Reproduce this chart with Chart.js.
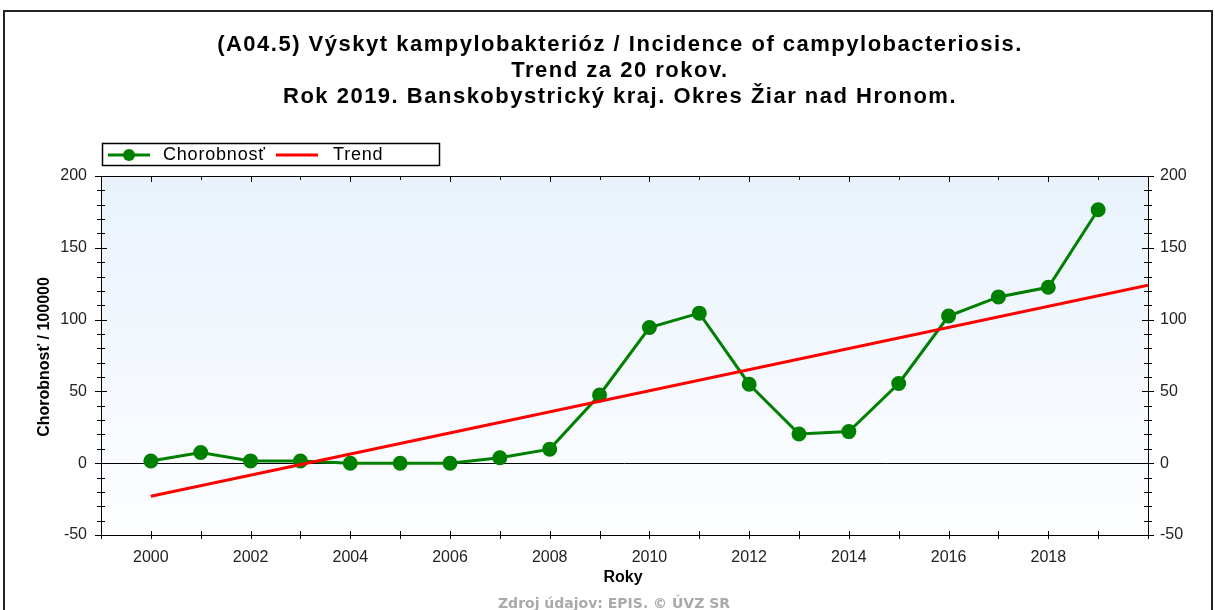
<!DOCTYPE html>
<html>
<head>
<meta charset="utf-8">
<script src="https://cdn.jsdelivr.net/npm/chart.js@4/dist/chart.umd.min.js"></script>
<style>
  html, body { margin: 0; padding: 0; background: #fff; }
  #wrap { width: 1215px; height: 610px; }
</style>
</head>
<body>
<div id="wrap"><canvas id="canvas" width="1215" height="610"></canvas></div>
<script>
// data
var roky = [2000, 2001, 2002, 2003, 2004, 2005, 2006, 2007, 2008, 2009,
            2010, 2011, 2012, 2013, 2014, 2015, 2016, 2017, 2018, 2019];
var chorobnost = [1.5, 7.5, 1.6, 1.5, 0, 0, 0, 3.8, 9.8, 47.5,
                  94.5, 104.5, 55, 20.3, 22, 55.5, 102.5, 115.8, 122.5, 176.5];
var trendRoky = [2000, 2020];
var trendHodnoty = [-23, 124];
var yTicks = [-50, 0, 50, 100, 150, 200];
var xLabels = [2000, 2002, 2004, 2006, 2008, 2010, 2012, 2014, 2016, 2018];

var titleLines = [
  '(A04.5) Výskyt kampylobakterióz / Incidence of campylobacteriosis.',
  'Trend za 20 rokov.',
  'Rok 2019. Banskobystrický kraj. Okres Žiar nad Hronom.'
];

var chorData = roky.map(function(r, i){ return {x: r, y: chorobnost[i]}; });
var trendData = trendRoky.map(function(r, i){ return {x: r, y: trendHodnoty[i]}; });

var GREEN = '#008000';
var RED = '#ff0000';
var FONT = '"Liberation Sans", Arial, sans-serif';

var decor = {
  id: 'decor',
  beforeDraw: function(chart){
    var c = chart.ctx, a = chart.chartArea;
    c.save();
    c.fillStyle = '#fff';
    c.fillRect(0, 0, chart.width, chart.height);
    var g = c.createLinearGradient(0, a.top, 0, a.bottom);
    g.addColorStop(0, '#e9f2fc');
    g.addColorStop(1, '#fdfeff');
    c.fillStyle = g;
    c.fillRect(a.left, a.top, a.right - a.left, a.bottom - a.top);
    c.restore();
  },
  afterDraw: function(chart){
    var c = chart.ctx, a = chart.chartArea;
    var xs = chart.scales.x, ys = chart.scales.y;
    c.save();
    // outer frame
    c.strokeStyle = '#222';
    c.lineWidth = 2;
    c.strokeRect(4, 11, 1208, 640);

    // plot frame
    c.strokeStyle = '#000';
    c.lineWidth = 1;
    c.strokeRect(Math.round(a.left) + 0.5, Math.round(a.top) + 0.5,
                 Math.round(a.right - a.left), Math.round(a.bottom - a.top));

    // y tick marks (both sides, crossing)
    c.beginPath();
    for (var v = -50; v <= 200; v += 10) {
      var py = Math.round(ys.getPixelForValue(v)) + 0.5;
      var len = (v % 50 === 0) ? 6 : 4;
      c.moveTo(a.left - len, py); c.lineTo(a.left + len, py);
      c.moveTo(a.right - len, py); c.lineTo(a.right + len, py);
    }
    // x tick marks bottom and top
    for (var r = 1999; r <= 2020; r++) {
      var px = Math.round(xs.getPixelForValue(r)) + 0.5;
      var l2 = (r % 2 === 0) ? 6 : 4;
      c.moveTo(px, a.bottom - 4); c.lineTo(px, a.bottom + 4);
      c.moveTo(px, a.top); c.lineTo(px, a.top + l2);
    }
    c.stroke();

    // titles
    c.fillStyle = '#000';
    c.textAlign = 'center';
    c.textBaseline = 'middle';
    c.font = 'bold 22px ' + FONT;
    c.letterSpacing = '1.5px';
    titleLines.forEach(function(t, i){ c.fillText(t, 620, 45 + i * 26); });
    c.letterSpacing = '0px';

    c.font = 'bold 16px ' + FONT;
    c.fillText('Roky', 623, 578);
    c.save();
    c.translate(45, 357);
    c.rotate(-Math.PI / 2);
    c.fillText('Chorobnosť / 100000', 0, 0);
    c.restore();

    c.fillStyle = '#aaaaaa';
    c.font = 'bold 14px "DejaVu Sans", sans-serif';
    c.fillText('Zdroj údajov: EPIS. © ÚVZ SR', 614, 604);

    // legend
    c.fillStyle = '#fff';
    c.fillRect(102, 143, 338, 23);
    c.strokeStyle = '#000';
    c.lineWidth = 1.5;
    c.strokeRect(102.5, 143.5, 337, 22);
    c.lineWidth = 3;
    c.strokeStyle = GREEN;
    c.beginPath(); c.moveTo(108, 155); c.lineTo(150, 155); c.stroke();
    c.fillStyle = GREEN;
    c.beginPath(); c.arc(129, 155, 6, 0, Math.PI * 2); c.fill();
    c.strokeStyle = RED;
    c.beginPath(); c.moveTo(276, 155); c.lineTo(318, 155); c.stroke();
    c.fillStyle = '#000';
    c.textAlign = 'left';
    c.font = '18px ' + FONT;
    c.letterSpacing = '0.8px';
    c.fillText('Chorobnosť', 163, 155);
    c.fillText('Trend', 333, 155);
    c.letterSpacing = '0px';
    c.restore();
  }
};

var tickFont = { family: FONT, size: 16 };

var ctx = document.getElementById('canvas').getContext('2d');
var chart = new Chart(ctx, {
  type: 'line',
  data: {
    datasets: [{
      label: 'Trend',
      data: trendData,
      borderColor: RED,
      backgroundColor: RED,
      borderWidth: 3,
      pointRadius: 0,
      order: 0
    }, {
      label: 'Chorobnosť',
      data: chorData,
      borderColor: GREEN,
      backgroundColor: GREEN,
      borderWidth: 3,
      pointRadius: 6,
      pointBackgroundColor: GREEN,
      pointBorderColor: GREEN,
      order: 1
    }]
  },
  options: {
    responsive: false,
    animation: false,
    events: [],
    layout: { padding: { left: 41, right: 7, top: 176, bottom: 40 } },
    elements: { line: { tension: 0 } },
    plugins: { legend: { display: false }, title: { display: false }, tooltip: { enabled: false } },
    scales: {
      x: {
        type: 'linear',
        min: 1999, max: 2020,
        afterFit: function(s){ s.height = 35; },
        grid: { display: false },
        border: { display: false },
        ticks: {
          stepSize: 1, autoSkip: false, maxRotation: 0, padding: 5,
          color: '#222',
          font: tickFont,
          callback: function(v){ return xLabels.indexOf(v) >= 0 ? String(v) : ''; }
        }
      },
      y: {
        position: 'left',
        min: -50, max: 200,
        afterFit: function(s){ s.width = 60; },
        border: { display: false },
        grid: {
          drawTicks: false,
          color: function(c){ return c.tick && c.tick.value === 0 ? '#000' : 'rgba(0,0,0,0)'; }
        },
        ticks: {
          stepSize: 50, padding: 14,
          color: '#222',
          font: tickFont,
          callback: function(v){ return yTicks.indexOf(v) >= 0 ? String(v) : ''; }
        }
      },
      y2: {
        position: 'right',
        min: -50, max: 200,
        afterFit: function(s){ s.width = 60; },
        border: { display: false },
        grid: { display: false, drawTicks: false },
        ticks: {
          stepSize: 50, padding: 12,
          color: '#222',
          font: tickFont,
          callback: function(v){ return yTicks.indexOf(v) >= 0 ? String(v) : ''; }
        }
      }
    }
  },
  plugins: [decor]
});
</script>
</body>
</html>
